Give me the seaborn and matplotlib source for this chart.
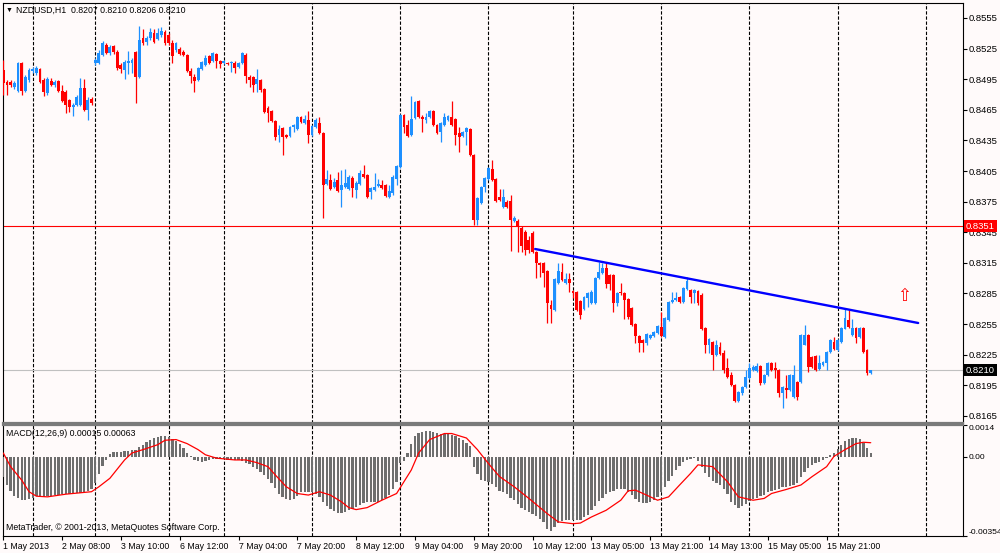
import matplotlib
matplotlib.use("Agg")
import matplotlib.pyplot as plt
import matplotlib.transforms as mtransforms
import seaborn as sns
import numpy as np

# --- NZDUSD H1 candles ---
opens = [
    .8504, .8492, .8492, .8487, .8483, .8511, .8483, .8494, .8503, .8501, .8505, .8494,
    .8481, .8493, .8489, .8493, .8483, .8482, .8475, .8468, .8470, .8470, .8486, .8465,
    .8476, .8511, .8511, .8519, .8529, .8521, .8528, .8522, .8509, .8504, .8511, .8511,
    .8522, .8497, .8535, .8531, .8535, .8540, .8534, .8538, .8541, .8538, .8530, .8524,
    .8525, .8522, .8519, .8503, .8497, .8494, .8505, .8509, .8518, .8513, .8520, .8513,
    .8511, .8511, .8511, .8511, .8507, .8511, .8519, .8497, .8497, .8490, .8494, .8485,
    .8467, .8464, .8454, .8440, .8447, .8440, .8439, .8448, .8446, .8458, .8452, .8455,
    .8440, .8448, .8452, .8442, .8392, .8396, .8389, .8396, .8386, .8389, .8387, .8398,
    .8386, .8392, .8402, .8401, .8384, .8386, .8390, .8391, .8391, .8380, .8383, .8397,
    .8409, .8460, .8450, .8440, .8457, .8474, .8458, .8455, .8458, .8464, .8450, .8443,
    .8450, .8455, .8458, .8456, .8442, .8439, .8443, .8446, .8421, .8357, .8374, .8389,
    .8397, .8407, .8397, .8380, .8370, .8375, .8376, .8356, .8356, .8349, .8345, .8337,
    .8344, .8326, .8315, .8315, .8307, .8274, .8269, .8295, .8306, .8295, .8299, .8287,
    .8286, .8278, .8270, .8281, .8276, .8276, .8300, .8305, .8310, .8303, .8303, .8276,
    .8286, .8285, .8280, .8271, .8255, .8243, .8239, .8236, .8241, .8243, .8246, .8252,
    .8242, .8259, .8277, .8279, .8282, .8277, .8289, .8288, .8285, .8287, .8284, .8251,
    .8235, .8237, .8225, .8233, .8227, .8212, .8205, .8195, .8180, .8187, .8193, .8202,
    .8210, .8209, .8214, .8197, .8205, .8217, .8212, .8210, .8187, .8192, .8190, .8184,
    .8198, .8198, .8235, .8244, .8223, .8224, .8211, .8215, .8217, .8228, .8237, .8230,
    .8237, .8250, .8259, .8244, .8251, .8242, .8251, .8230, .8207,
]
highs = [
    .8514, .8494, .8494, .8493, .8512, .8512, .8499, .8506, .8507, .8508, .8506, .8496,
    .8497, .8496, .8494, .8494, .8489, .8484, .8476, .8472, .8480, .8496, .8495, .8478,
    .8478, .8516, .8524, .8532, .8530, .8529, .8529, .8524, .8511, .8514, .8523, .8516,
    .8523, .8547, .8544, .8537, .8545, .8544, .8545, .8546, .8543, .8540, .8533, .8531,
    .8527, .8524, .8520, .8506, .8500, .8507, .8513, .8519, .8519, .8522, .8521, .8514,
    .8514, .8512, .8513, .8513, .8512, .8522, .8521, .8499, .8498, .8505, .8495, .8486,
    .8469, .8465, .8455, .8450, .8448, .8441, .8449, .8451, .8459, .8459, .8460, .8464,
    .8450, .8457, .8458, .8443, .8406, .8402, .8398, .8404, .8406, .8407, .8401, .8400,
    .8395, .8406, .8411, .8402, .8389, .8403, .8397, .8396, .8392, .8391, .8401, .8411,
    .8461, .8461, .8455, .8479, .8474, .8475, .8460, .8462, .8465, .8465, .8451, .8453,
    .8462, .8460, .8474, .8457, .8448, .8444, .8448, .8447, .8422, .8380, .8390, .8399,
    .8409, .8416, .8398, .8387, .8387, .8377, .8382, .8361, .8358, .8351, .8347, .8341,
    .8346, .8327, .8316, .8316, .8308, .8279, .8300, .8315, .8315, .8305, .8305, .8288,
    .8287, .8279, .8283, .8286, .8288, .8301, .8316, .8315, .8316, .8304, .8304, .8286,
    .8295, .8286, .8281, .8272, .8256, .8244, .8240, .8246, .8245, .8248, .8254, .8267,
    .8262, .8278, .8286, .8286, .8283, .8291, .8301, .8289, .8289, .8288, .8285, .8252,
    .8241, .8238, .8239, .8237, .8230, .8222, .8208, .8196, .8189, .8194, .8210, .8217,
    .8215, .8217, .8215, .8206, .8218, .8218, .8218, .8211, .8194, .8205, .8206, .8215,
    .8199, .8245, .8254, .8245, .8224, .8225, .8225, .8219, .8229, .8240, .8242, .8240,
    .8252, .8271, .8269, .8260, .8252, .8252, .8252, .8231, .8210,
]
lows = [
    .8480, .8480, .8487, .8485, .8482, .8480, .8482, .8492, .8501, .8499, .8491, .8479,
    .8480, .8488, .8487, .8482, .8473, .8462, .8463, .8459, .8469, .8469, .8464, .8455,
    .8470, .8509, .8510, .8518, .8520, .8519, .8520, .8504, .8501, .8495, .8500, .8501,
    .8472, .8496, .8529, .8529, .8533, .8530, .8533, .8536, .8529, .8529, .8511, .8522,
    .8519, .8518, .8502, .8491, .8482, .8493, .8504, .8508, .8510, .8512, .8506, .8506,
    .8510, .8509, .8502, .8501, .8506, .8510, .8491, .8487, .8482, .8482, .8482, .8462,
    .8453, .8453, .8435, .8433, .8421, .8437, .8438, .8443, .8445, .8452, .8451, .8432,
    .8439, .8447, .8441, .8359, .8391, .8386, .8388, .8384, .8370, .8388, .8386, .8380,
    .8379, .8391, .8398, .8379, .8378, .8385, .8389, .8387, .8380, .8379, .8382, .8391,
    .8408, .8442, .8438, .8439, .8456, .8457, .8443, .8452, .8457, .8449, .8441, .8433,
    .8449, .8454, .8449, .8431, .8424, .8438, .8431, .8420, .8352, .8352, .8373, .8384,
    .8396, .8395, .8375, .8376, .8369, .8369, .8327, .8355, .8326, .8326, .8323, .8325,
    .8325, .8300, .8301, .8291, .8256, .8256, .8268, .8294, .8297, .8294, .8286, .8281,
    .8268, .8260, .8269, .8272, .8275, .8275, .8299, .8304, .8290, .8288, .8267, .8273,
    .8284, .8260, .8260, .8253, .8236, .8228, .8228, .8235, .8240, .8242, .8245, .8242,
    .8241, .8258, .8276, .8278, .8276, .8276, .8288, .8276, .8276, .8274, .8249, .8227,
    .8227, .8210, .8224, .8225, .8207, .8202, .8194, .8179, .8179, .8186, .8192, .8201,
    .8209, .8208, .8195, .8196, .8204, .8209, .8202, .8184, .8173, .8183, .8189, .8183,
    .8181, .8197, .8235, .8208, .8212, .8209, .8210, .8214, .8210, .8227, .8230, .8229,
    .8236, .8250, .8251, .8243, .8236, .8241, .8227, .8205, .8206,
]
closes = [
    .8491, .8489, .8489, .8491, .8511, .8483, .8497, .8504, .8505, .8506, .8492, .8482,
    .8495, .8489, .8492, .8483, .8474, .8470, .8468, .8470, .8478, .8486, .8465, .8475,
    .8472, .8514, .8521, .8530, .8521, .8527, .8522, .8506, .8505, .8512, .8513, .8514,
    .8497, .8533, .8530, .8535, .8541, .8531, .8540, .8542, .8530, .8530, .8518, .8530,
    .8520, .8519, .8503, .8498, .8493, .8506, .8512, .8516, .8511, .8521, .8513, .8510,
    .8513, .8510, .8512, .8506, .8511, .8521, .8498, .8494, .8489, .8495, .8484, .8463,
    .8462, .8454, .8438, .8446, .8438, .8438, .8448, .8450, .8458, .8453, .8456, .8440,
    .8449, .8455, .8442, .8391, .8397, .8387, .8394, .8385, .8391, .8393, .8399, .8388,
    .8393, .8403, .8399, .8380, .8388, .8389, .8392, .8388, .8381, .8385, .8399, .8410,
    .8460, .8448, .8439, .8456, .8473, .8458, .8456, .8458, .8464, .8450, .8442, .8452,
    .8458, .8459, .8450, .8440, .8438, .8443, .8447, .8421, .8357, .8379, .8389, .8398,
    .8408, .8396, .8376, .8377, .8380, .8370, .8357, .8359, .8350, .8332, .8328, .8328,
    .8326, .8315, .8313, .8305, .8276, .8270, .8299, .8307, .8298, .8299, .8295, .8285,
    .8269, .8264, .8282, .8285, .8286, .8300, .8306, .8310, .8294, .8294, .8276, .8285,
    .8285, .8279, .8262, .8254, .8243, .8236, .8236, .8245, .8244, .8247, .8253, .8243,
    .8261, .8277, .8279, .8281, .8277, .8290, .8297, .8282, .8288, .8276, .8250, .8235,
    .8240, .8225, .8235, .8226, .8210, .8203, .8195, .8180, .8188, .8193, .8203, .8212,
    .8213, .8214, .8197, .8205, .8217, .8210, .8210, .8187, .8193, .8190, .8205, .8205,
    .8184, .8244, .8244, .8213, .8213, .8210, .8217, .8218, .8228, .8239, .8231, .8239,
    .8251, .8261, .8252, .8251, .8241, .8251, .8228, .8207, .8210,
]

# --- MACD(12,26,9): main histogram and signal line ---
macd_main = [
    -0.00089, -0.00126, -0.00152, -0.00173, -0.00186, -0.00194, -0.00194, -0.00189, -0.00182, -0.00176, -0.00176, -0.00179,
    -0.00177, -0.00174, -0.00171, -0.00170, -0.00168, -0.00167, -0.00165, -0.00164, -0.00162, -0.00161, -0.00158, -0.00155,
    -0.00146, -0.00119, -0.00077, -0.00041, -0.00014, 0.00012, 0.00021, 0.00023, 0.00023, 0.00024, 0.00027, 0.00030,
    0.00032, 0.00044, 0.00054, 0.00065, 0.00074, 0.00083, 0.00089, 0.00093, 0.00095, 0.00089, 0.00080, 0.00069,
    0.00059, 0.00039, 0.00017, 0.00002, -0.00014, -0.00020, -0.00021, -0.00018, -0.00015, -0.00012, -0.00009, -0.00008,
    -0.00011, -0.00014, -0.00014, -0.00014, -0.00015, -0.00017, -0.00026, -0.00033, -0.00044, -0.00056, -0.00066, -0.00081,
    -0.00098, -0.00119, -0.00141, -0.00164, -0.00179, -0.00189, -0.00194, -0.00188, -0.00173, -0.00159, -0.00156, -0.00156,
    -0.00158, -0.00164, -0.00179, -0.00201, -0.00221, -0.00233, -0.00242, -0.00249, -0.00251, -0.00246, -0.00239, -0.00233,
    -0.00225, -0.00216, -0.00207, -0.00203, -0.00201, -0.00201, -0.00200, -0.00194, -0.00185, -0.00170, -0.00146, -0.00111,
    -0.00029, -0.00017, 0.00017, 0.00059, 0.00092, 0.00107, 0.00113, 0.00116, 0.00117, 0.00111, 0.00107, 0.00104,
    0.00104, 0.00104, 0.00099, 0.00092, 0.00083, 0.00074, 0.00062, 0.00047, -0.00044, -0.00077, -0.00102, -0.00110,
    -0.00114, -0.00120, -0.00134, -0.00152, -0.00159, -0.00167, -0.00182, -0.00194, -0.00209, -0.00227, -0.00236, -0.00246,
    -0.00254, -0.00266, -0.00276, -0.00291, -0.00321, -0.00333, -0.00314, -0.00294, -0.00287, -0.00284, -0.00284, -0.00284,
    -0.00284, -0.00281, -0.00269, -0.00258, -0.00239, -0.00218, -0.00198, -0.00182, -0.00167, -0.00158, -0.00152, -0.00146,
    -0.00143, -0.00146, -0.00156, -0.00171, -0.00189, -0.00201, -0.00206, -0.00206, -0.00203, -0.00194, -0.00179, -0.00156,
    -0.00134, -0.00108, -0.00086, -0.00059, -0.00039, -0.00024, -0.00014, -0.00008, -0.00006, -0.00017, -0.00044, -0.00071,
    -0.00089, -0.00107, -0.00116, -0.00126, -0.00146, -0.00167, -0.00201, -0.00216, -0.00227, -0.00221, -0.00209, -0.00197,
    -0.00188, -0.00182, -0.00177, -0.00170, -0.00159, -0.00153, -0.00149, -0.00143, -0.00137, -0.00134, -0.00132, -0.00126,
    -0.00116, -0.00092, -0.00066, -0.00048, -0.00036, -0.00027, -0.00021, -0.00015, -0.00006, 0.00008, 0.00017, 0.00035,
    0.00054, 0.00069, 0.00078, 0.00083, 0.00084, 0.00080, 0.00062, 0.00039, 0.00015,
]
signal_bar = [0, 2, 5, 7, 9, 12, 17, 24, 26, 29, 33, 35, 38, 42, 44, 47, 50, 53, 55, 58,
              63, 66, 69, 72, 74, 77, 80, 83, 86, 89, 92, 94, 96, 99, 103, 107, 111, 113, 116, 120,
              122, 126, 129, 131, 133, 135, 139, 143, 148, 151, 155, 157, 160, 164, 168, 170, 172, 175, 178, 181,
              184, 187, 189, 193, 197, 200, 204, 207, 209, 213, 217, 220, 224, 226, 229, 232, 234, 236]
signal_val = [0.00017, -0.00044, -0.00104, -0.00156, -0.00176, -0.00179, -0.00167, -0.00156, -0.00134, -0.00096,
              -0.00014, 0.00017, 0.00032, 0.00054, 0.00074, 0.00077, 0.00059, 0.00032, 0.00009, -0.00006,
              -0.00014, -0.00014, -0.00026, -0.00044, -0.00081, -0.00134, -0.00164, -0.00171, -0.00156, -0.00171,
              -0.00201, -0.00227, -0.00236, -0.00227, -0.00194, -0.00164, -0.00059, 0.00017, 0.00077, 0.00104,
              0.00104, 0.00084, 0.00032, -0.00010, -0.00050, -0.00088, -0.00134, -0.00186, -0.00254, -0.00291,
              -0.00299, -0.00296, -0.00269, -0.00239, -0.00194, -0.00152, -0.00149, -0.00171, -0.00194, -0.00179,
              -0.00126, -0.00074, -0.00036, -0.00044, -0.00111, -0.00179, -0.00194, -0.00186, -0.00164, -0.00146,
              -0.00126, -0.00089, -0.00044, 0.00002, 0.00032, 0.00059, 0.00065, 0.00063]

# day separators (bar index) and time axis labels
day_breaks = [8, 25, 45, 60, 84, 108, 132, 155, 179, 203, 227, 251]
time_ticks = [0, 16, 32, 48, 64, 80, 96, 112, 128, 144, 160, 176, 192, 208, 224]
time_labels = ["1 May 2013", "2 May 08:00", "3 May 10:00", "6 May 12:00", "7 May 04:00",
               "7 May 20:00", "8 May 12:00", "9 May 04:00", "9 May 20:00", "10 May 12:00",
               "13 May 05:00", "13 May 21:00", "14 May 13:00", "15 May 05:00", "15 May 21:00"]
price_ticks = [0.8555, 0.8525, 0.8495, 0.8465, 0.8435, 0.8405, 0.8375, 0.8345,
               0.8315, 0.8285, 0.8255, 0.8225, 0.8195, 0.8165]
macd_ticks = [0.0014, 0.0, -0.00354]
macd_tick_labels = ["0.0014", "0.00", "-0.00354"]

# drawn objects
trend_x = [144.7, 248.9]
trend_y = [0.83286, 0.82561]
level_line = 0.8351
last_price = 0.8210
arrow_pos = (245.1, 0.82825)

BG = "#fffafa"
BULL = "#1e90ff"
BEAR = "#ff0000"

sns.set_theme(style="white")
plt.rcParams["font.family"] = ["Liberation Sans", "DejaVu Sans"]
plt.rcParams["axes.linewidth"] = 0.8

fig = plt.figure(figsize=(10, 5.53), dpi=100, facecolor=BG)
ax = fig.add_axes([0.0027, 0.2351, 0.9603, 0.7595], facecolor=BG)
axm = fig.add_axes([0.0027, 0.0307, 0.9603, 0.1999], facecolor=BG, sharex=ax)

x = np.arange(len(closes))
o = np.array(opens)
c = np.array(closes)
up = c >= o
cols = np.where(up, BULL, BEAR)
body_lo = np.minimum(o, c)
body_h = np.maximum(np.abs(c - o), 0.00004)

# candles
ax.vlines(x, lows, highs, colors=cols, lw=0.9, zorder=3)
ax.bar(x, body_h, bottom=body_lo, width=0.78, color=cols, linewidth=0, zorder=4)

# separators
for a in (ax, axm):
    for d in day_breaks:
        a.axvline(d, color="black", lw=0.8, ls=(0, (3, 1.6)), zorder=1)

ax.axhline(level_line, color="red", lw=0.8, zorder=2)
ax.axhline(last_price, color="#c0c0c0", lw=0.8, zorder=2)
ax.plot(trend_x, trend_y, color="#0000ff", lw=1.7, zorder=5)
ax.text(arrow_pos[0], arrow_pos[1], "\u21e7", color="red", fontsize=12,
        family="DejaVu Sans", ha="center", va="center", zorder=6)

ax.set_ylim(0.81581, 0.85697)
ax.yaxis.tick_right()
ax.set_yticks(price_ticks)
ax.set_yticklabels([f"{p:.4f}" for p in price_ticks])
ax.tick_params(axis="y", right=True, labelright=True, left=False, labelleft=False,
               length=3, width=0.8, pad=1.2, labelsize=6.8, colors="black")
ax.tick_params(axis="x", bottom=False, labelbottom=False)

trans = mtransforms.blended_transform_factory(ax.transAxes, ax.transData)
ax.text(1.003, level_line, f"{level_line:.4f}", transform=trans, color="white",
        fontsize=6.8, ha="left", va="center", zorder=10, clip_on=False,
        bbox=dict(facecolor="red", edgecolor="none", pad=1.3))
ax.text(1.003, last_price, f"{last_price:.4f}", transform=trans, color="white",
        fontsize=6.8, ha="left", va="center", zorder=10, clip_on=False,
        bbox=dict(facecolor="black", edgecolor="none", pad=1.3))

# MACD panel
sns.barplot(x=x, y=macd_main, native_scale=True, orient="x", color="#6e6e6e",
            saturation=1, width=0.62, errorbar=None, linewidth=0, ax=axm, zorder=3)
sns.lineplot(x=signal_bar, y=signal_val, color="red", lw=0.9, ax=axm, zorder=4)

axm.set_ylim(-0.00354, 0.0014)
axm.yaxis.tick_right()
axm.set_yticks(macd_ticks)
axm.set_yticklabels(macd_tick_labels)
axm.tick_params(axis="y", right=True, labelright=True, left=False, labelleft=False,
                length=3, width=0.8, pad=0.8, labelsize=6.1, colors="black")
ylabs = axm.get_yticklabels()
ylabs[0].set_va("top")
ylabs[2].set_va("bottom")

axm.set_xticks(time_ticks)
axm.set_xticklabels(time_labels, ha="left")
axm.tick_params(axis="x", bottom=True, labelbottom=True, length=3, width=0.8,
                pad=1.5, labelsize=6.3, colors="black")
axm.set_xlabel("")
axm.set_ylabel("")

for a in (ax, axm):
    for s in a.spines.values():
        s.set_color("black")
        s.set_linewidth(0.8)
ax.spines["bottom"].set_color("#7a7a7a")
ax.spines["bottom"].set_linewidth(1.6)
axm.spines["top"].set_color("#7a7a7a")
axm.spines["top"].set_linewidth(1.6)

ax.set_xlim(-0.16, 261.1)

# header texts
fig.text(0.006, 1 - 10 / 553, "\u25bc", fontsize=5, color="black", va="center", ha="left")
fig.text(0.016, 1 - 10 / 553, "NZDUSD,H1  0.8207 0.8210 0.8206 0.8210", fontsize=6.3,
         color="black", va="center", ha="left")
fig.text(0.006, 1 - 434 / 553, "MACD(12,26,9) 0.00015 0.00063", fontsize=6.3,
         color="black", va="center", ha="left")
fig.text(0.006, 1 - 528 / 553, "MetaTrader, \u00a9 2001-2013, MetaQuotes Software Corp.",
         fontsize=6.3, color="black", va="center", ha="left")

fig.savefig("out.png", dpi=100, facecolor=BG)
